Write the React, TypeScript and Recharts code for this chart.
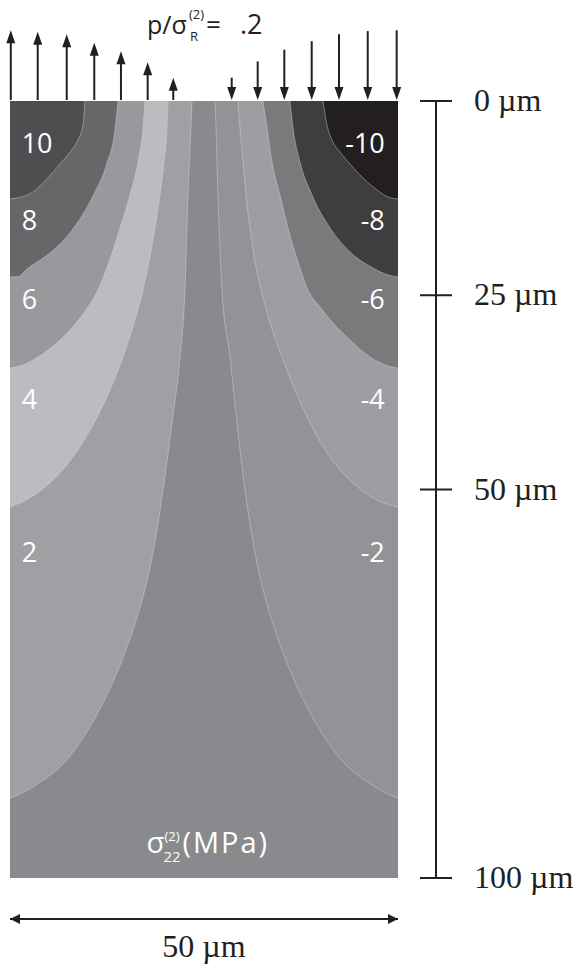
import React from 'react';
import { ComposedChart, Area, Scatter, XAxis, YAxis, ReferenceLine } from 'recharts';

// contour boundaries as [lateral position µm, depth µm]
const c10 = [[0, 12.6], [1.29, 12.4], [2.96, 11.7], [4.77, 10.0], [6.44, 8.1], [7.73, 6.6], [8.76, 5.0], [9.41, 3.1], [9.66, 0]];
const c8 = [[0, 22.65], [1.03, 22.6], [2.19, 21.62], [5.15, 19.56], [8.12, 16.47], [10.7, 12.23], [12.5, 7.98], [13.53, 3.73], [13.92, 0]];
const c6 = [[0, 34.36], [1.29, 34.11], [3.61, 32.95], [6.44, 30.76], [8.51, 28.57], [10.05, 26.51], [11.34, 24.32], [12.76, 20.72], [14.18, 16.35], [15.46, 12.1], [16.49, 7.85], [17.14, 3.47], [17.4, 0]];
const c4 = [[0, 52.25], [2.32, 51.22], [5.15, 49.16], [8.12, 45.82], [10.82, 41.44], [12.89, 37.19], [14.56, 32.95], [15.98, 28.57], [17.14, 24.32], [17.91, 20.72], [18.69, 16.35], [19.33, 12.1], [19.85, 7.85], [20.23, 3.47], [20.36, 0]];
const c2 = [[0, 89.7], [1.29, 89.19], [4.12, 87.52], [6.96, 85.2], [10.05, 80.95], [12.37, 76.7], [14.3, 72.33], [15.85, 68.08], [17.14, 63.84], [18.17, 59.46], [18.94, 55.21], [19.72, 50.06], [20.88, 41.44], [21.91, 32.95], [22.55, 24.32], [22.94, 12.1], [23.32, 3.47], [23.45, 0]];
const cm2 = [[26.42, 0], [26.55, 3.47], [26.8, 12.1], [27.32, 24.32], [28.35, 32.95], [29.25, 41.44], [30.28, 50.06], [31.06, 55.21], [31.83, 59.46], [32.86, 63.84], [34.15, 68.08], [35.7, 72.33], [37.63, 76.7], [39.95, 80.95], [43.04, 85.2], [45.88, 87.52], [48.71, 89.19], [50, 89.7]];
const cm4 = [[29.38, 0], [29.64, 3.47], [30.03, 7.85], [30.41, 12.1], [30.93, 16.35], [31.57, 20.72], [32.35, 24.32], [33.51, 28.57], [35.05, 32.95], [36.73, 37.19], [38.66, 41.44], [41.24, 45.82], [44.2, 49.16], [47.29, 51.35], [50, 52.25]];
const cm6 = [[32.6, 0], [33.12, 3.47], [33.76, 7.85], [34.79, 12.1], [35.82, 16.35], [37.11, 20.72], [38.4, 24.32], [39.95, 26.51], [41.62, 28.57], [43.81, 30.76], [46.39, 32.95], [48.71, 34.1], [50, 34.36]];
const cm8 = [[36.08, 0], [36.47, 3.47], [37.37, 7.85], [38.92, 12.1], [41.24, 16.35], [43.81, 19.43], [46.78, 21.49], [48.71, 22.39], [50, 22.65]];
const cm10 = [[40.34, 0], [40.85, 3.09], [41.49, 5.02], [42.53, 6.56], [43.81, 8.11], [45.49, 9.91], [47.29, 11.45], [48.71, 12.36], [50, 12.61]];

// surface load: arrow positions (µm) and magnitude (up = tension)
const loadX = [0.1, 3.57, 7.31, 10.86, 14.3, 17.74, 21.04, 28.57, 31.92, 35.35, 38.88, 42.4, 46.1, 49.83];
const loadP = [9.1, 8.9, 8.6, 7.5, 6.4, 5.0, 3.0, -3.0, -5.1, -6.6, -7.7, -8.6, -9.0, -9.1];

const posLevels = ['10', '8', '6', '4', '2'];
const negLevels = ['-10', '-8', '-6', '-4', '-2'];
const levelDepths = [6.7, 16.6, 26.8, 39.6, 59.3];

const depthTicks = [0, 25, 50, 100];
const widthTicks = [0, 25, 50];

const INK = '#231f20';
const toRows = (pts: number[][]) => pts.map(([x, d]) => ({ x, d }));

const bands = [
  { id: 'p2', pts: c2, fill: '#a0a0a4' },
  { id: 'p4', pts: c4, fill: '#bcbcc0' },
  { id: 'p6', pts: c6, fill: '#99999d' },
  { id: 'p8', pts: c8, fill: '#67676a' },
  { id: 'p10', pts: c10, fill: '#4e4e50' },
  { id: 'm2', pts: cm2, fill: '#939397' },
  { id: 'm4', pts: cm4, fill: '#9e9ea2' },
  { id: 'm6', pts: cm6, fill: '#7a7a7d' },
  { id: 'm8', pts: cm8, fill: '#3e3e40' },
  { id: 'm10', pts: cm10, fill: '#231f20' },
];

const labelRows = [
  ...posLevels.map((t, i) => ({ x: 1.5, d: levelDepths[i], t, anchor: 'start' })),
  ...negLevels.map((t, i) => ({ x: 48.3, d: levelDepths[i], t, anchor: 'end' })),
];
const unitRow = [{ x: 25.7, d: 96.8 }];

const LevelLabel = (props: any) => {
  const { cx, cy, payload } = props;
  return (
    <text x={cx} y={cy} textAnchor={payload.anchor} fill="#fff" fontSize={27} fontFamily="Open Sans">
      {payload.t}
    </text>
  );
};

const UnitLabel = (props: any) => {
  const { cx, cy } = props;
  return (
    <text fill="#fff" fontFamily="Open Sans">
      <tspan x={cx - 63} y={cy} fontSize={29}>σ</tspan>
      <tspan x={cx - 45} y={cy - 12} fontSize={13}>(2)</tspan>
      <tspan x={cx - 46} y={cy + 9} fontSize={15}>22</tspan>
      <tspan x={cx - 27} y={cy} fontSize={29} letterSpacing={2}>(MPa)</tspan>
    </text>
  );
};

const LoadArrow = (props: any) => {
  const { x1, y1, x2, y2, up } = props;
  const head = 13;
  const hw = 4.5;
  if (up) {
    return (
      <g>
        <line x1={x1} y1={y1 - 1} x2={x2} y2={y2 + head - 2} stroke={INK} strokeWidth={2} />
        <polygon points={`${x2},${y2} ${x2 - hw},${y2 + head} ${x2 + hw},${y2 + head}`} fill={INK} />
      </g>
    );
  }
  return (
    <g>
      <line x1={x2} y1={y2} x2={x1} y2={y1 - head} stroke={INK} strokeWidth={2} />
      <polygon points={`${x1},${y1 - 1} ${x1 - hw},${y1 - head - 1} ${x1 + hw},${y1 - head - 1}`} fill={INK} />
    </g>
  );
};

const ScaleTick = (props: any) => {
  const { x, y, payload } = props;
  return (
    <g>
      <line x1={x - 16} y1={y} x2={x + 16} y2={y} stroke={INK} strokeWidth={2} />
      <text x={x + 38} y={y + 10} fill={INK} fontSize={32} fontFamily="Liberation Serif">
        {`${payload.value} µm`}
      </text>
    </g>
  );
};

const WidthTick = (props: any) => {
  const { x, y, payload } = props;
  if (payload.value === widthTicks[0]) {
    return <polygon points={`${x},${y} ${x + 10},${y - 5} ${x + 10},${y + 5}`} fill={INK} />;
  }
  if (payload.value === widthTicks[widthTicks.length - 1]) {
    return <polygon points={`${x},${y} ${x - 10},${y - 5} ${x - 10},${y + 5}`} fill={INK} />;
  }
  return (
    <text x={x} y={y + 38} textAnchor="middle" fill={INK} fontSize={32} fontFamily="Liberation Serif">
      {`${widthTicks[widthTicks.length - 1]} µm`}
    </text>
  );
};

export default function App() {
  return (
    <div>
      <style>{'body{margin:0}'}</style>
      <ComposedChart width={578} height={968} margin={{ top: 101, right: 0, bottom: 0, left: 10 }}>
        <XAxis xAxisId="a" dataKey="x" type="number" domain={[0, 50]} height={41} tick={false} axisLine={false} tickLine={false} />
        <XAxis
          xAxisId="b"
          dataKey="x"
          type="number"
          domain={[0, 50]}
          allowDataOverflow
          height={49}
          ticks={widthTicks}
          interval={0}
          tickSize={0}
          tickMargin={0}
          tickLine={false}
          axisLine={{ stroke: INK, strokeWidth: 2 }}
          tick={<WidthTick />}
        />
        <YAxis yAxisId="d" dataKey="d" type="number" orientation="right" domain={[0, 100]} reversed width={38} tick={false} axisLine={false} tickLine={false} />
        <YAxis
          yAxisId="s"
          type="number"
          orientation="right"
          domain={[0, 100]}
          allowDataOverflow
          reversed
          width={142}
          ticks={depthTicks}
          interval={0}
          tickSize={0}
          tickMargin={0}
          tickLine={false}
          axisLine={{ stroke: INK, strokeWidth: 2 }}
          tick={<ScaleTick />}
        />

        <Area
          xAxisId="a"
          yAxisId="d"
          data={[{ x: 0, d: 100 }, { x: 50, d: 100 }]}
          dataKey="d"
          type="linear"
          fill="#898a8e"
          fillOpacity={1}
          stroke="none"
          isAnimationActive={false}
        />
        {bands.map((b) => (
          <Area
            key={b.id}
            xAxisId="a"
            yAxisId="d"
            data={toRows(b.pts)}
            dataKey="d"
            type="monotone"
            fill={b.fill}
            fillOpacity={1}
            stroke="#d8d8dc"
            strokeOpacity={0.55}
            strokeWidth={0.8}
            isAnimationActive={false}
          />
        ))}
        <Scatter xAxisId="a" yAxisId="d" data={labelRows} shape={<LevelLabel />} isAnimationActive={false} />
        <Scatter xAxisId="b" yAxisId="d" data={unitRow} shape={<UnitLabel />} isAnimationActive={false} />

        {loadX.map((x, i) => (
          <ReferenceLine
            key={`load-${i}`}
            xAxisId="a"
            yAxisId="d"
            ifOverflow="visible"
            segment={[{ x, y: 0 }, { x, y: -Math.abs(loadP[i]) }]}
            shape={(p: any) => <LoadArrow {...p} up={loadP[i] > 0} />}
          />
        ))}

        <text fill={INK} fontFamily="Open Sans">
          <tspan x={147} y={34} fontSize={25}>p/σ</tspan>
          <tspan x={189} y={19} fontSize={13}>(2)</tspan>
          <tspan x={190} y={41} fontSize={13}>R</tspan>
          <tspan x={206} y={34} fontSize={26}>=</tspan>
          <tspan x={240} y={34} fontSize={27}>.2</tspan>
        </text>
      </ComposedChart>
    </div>
  );
}
